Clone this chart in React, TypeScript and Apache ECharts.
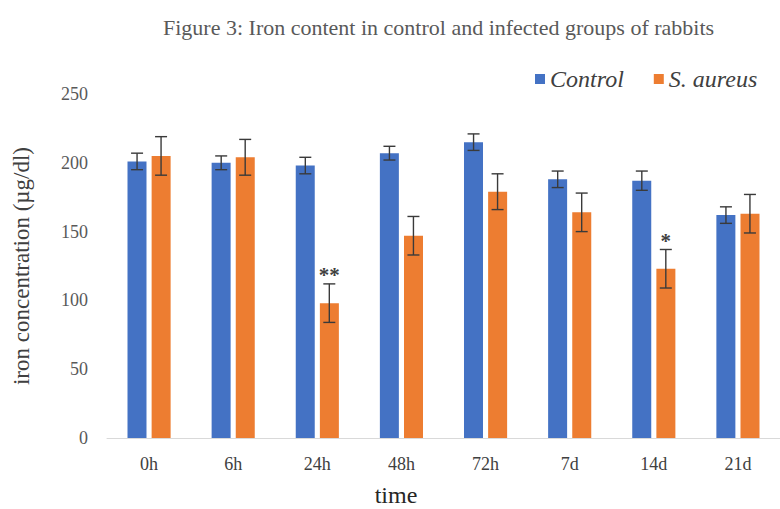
import React, { useEffect, useRef } from "react";
import * as echarts from "echarts";

const categories = ["0h", "6h", "24h", "48h", "72h", "7d", "14d", "21d"];
const controlValues = [201, 200, 198, 207, 215, 188, 187, 162];
const controlErrors = [6, 5, 6, 5, 6, 6, 7, 6];
const aureusValues = [205, 204, 98, 147, 179, 164, 123, 163];
const aureusErrors = [14, 13, 14, 14, 13, 14, 14, 14];
const significance = ["", "", "**", "", "", "", "*", ""];
const yTicks = { min: 0, max: 250, interval: 50 };

const SERIF = "Liberation Serif";
const BLUE = "#4472C4";
const ORANGE = "#ED7D31";
const BAR_W = 19;
const BAR_OFFSET = 12;

function errorSeries(values: number[], errors: number[], offset: number, marks: string[] | null) {
  const data = values.map((v, i) => [i, v - errors[i], v + errors[i], v]);
  return {
    type: "custom",
    silent: true,
    z: 5,
    clip: false,
    data,
    renderItem: (params: any, api: any) => {
      const idx = api.value(0);
      const lo = api.coord([idx, api.value(1)]);
      const hi = api.coord([idx, api.value(2)]);
      const x = lo[0] + offset;
      const cap = 6;
      const style = { stroke: "#3a3a3a", lineWidth: 1.4 };
      const children: any[] = [
        { type: "line", shape: { x1: x, y1: lo[1], x2: x, y2: hi[1] }, style },
        { type: "line", shape: { x1: x - cap, y1: hi[1], x2: x + cap, y2: hi[1] }, style },
        { type: "line", shape: { x1: x - cap, y1: lo[1], x2: x + cap, y2: lo[1] }, style },
      ];
      if (marks && marks[idx]) {
        children.push({
          type: "text",
          x: x,
          y: hi[1] + 2,
          style: {
            text: marks[idx],
            font: `bold 21px ${SERIF}`,
            fill: "#404040",
            align: "center",
            verticalAlign: "bottom",
          },
        });
      }
      return { type: "group", children };
    },
  };
}

export default function App() {
  const ref = useRef<HTMLDivElement>(null);
  useEffect(() => {
    document.body.style.margin = "0";
    if (!ref.current) return;
    const chart = echarts.init(ref.current, null, { renderer: "svg" });
    chart.setOption({
      animation: false,
      backgroundColor: "#ffffff",
      title: {
        text: "Figure 3: Iron content in control and infected groups of rabbits",
        left: 158,
        top: 11,
        textStyle: { fontFamily: SERIF, fontSize: 22, fontWeight: "normal", color: "#595959" },
      },
      legend: {
        data: ["Control", "S. aureus"],
        left: 530,
        top: 62,
        icon: "rect",
        itemWidth: 10,
        itemHeight: 10,
        itemGap: 30,
        textStyle: { fontFamily: SERIF, fontStyle: "italic", fontSize: 24, color: "#404040" },
      },
      grid: { left: 107, top: 94, width: 680, bottom: 71, containLabel: false },
      xAxis: {
        type: "category",
        data: categories,
        axisLine: { lineStyle: { color: "#d9d9d9", width: 1 } },
        axisTick: { show: false },
        axisLabel: { fontFamily: SERIF, fontSize: 18, color: "#404040", margin: 17 },
      },
      yAxis: {
        type: "value",
        min: yTicks.min,
        max: yTicks.max,
        interval: yTicks.interval,
        name: "iron concentration (µg/dl)",
        nameLocation: "middle",
        nameGap: 74,
        nameTextStyle: { fontFamily: SERIF, fontSize: 23, color: "#404040" },
        axisLine: { show: false },
        axisTick: { show: false },
        splitLine: { show: false },
        axisLabel: { fontFamily: SERIF, fontSize: 18, color: "#595959", margin: 19 },
      },
      graphic: [
        {
          type: "text",
          x: 396,
          y: 495,
          style: {
            text: "time",
            font: `24px ${SERIF}`,
            fill: "#262626",
            align: "center",
            verticalAlign: "middle",
          },
        },
      ],
      series: [
        {
          name: "Control",
          type: "bar",
          data: controlValues,
          barWidth: BAR_W,
          barGap: "27%",
          itemStyle: { color: BLUE },
        },
        {
          name: "S. aureus",
          type: "bar",
          data: aureusValues,
          barWidth: BAR_W,
          itemStyle: { color: ORANGE },
        },
        errorSeries(controlValues, controlErrors, -BAR_OFFSET, null),
        errorSeries(aureusValues, aureusErrors, BAR_OFFSET, significance),
      ],
    });
    return () => chart.dispose();
  }, []);
  return <div ref={ref} style={{ width: 780, height: 509 }} />;
}
